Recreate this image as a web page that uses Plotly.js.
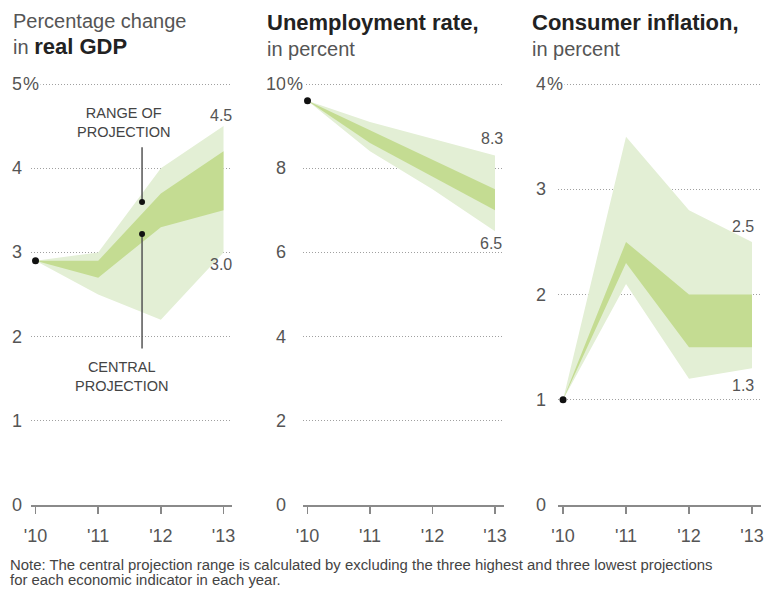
<!DOCTYPE html>
<html>
<head>
<meta charset="utf-8">
<script src="https://cdn.plot.ly/plotly-3.0.1.min.js"></script>
<style>html,body{margin:0;padding:0;background:#fff;}#chart{width:766px;height:589px;}</style>
</head>
<body>
<div id="chart"></div>
<script>
// ---------------- DATA ----------------
const years = [2010, 2011, 2012, 2013];
const yearLabels = ["'10", "'11", "'12", "'13"];

// Real GDP, percentage change
const gdpRangeHigh   = [2.9, 3.0, 4.0, 4.5];
const gdpRangeLow    = [2.9, 2.5, 2.2, 3.0];
const gdpCentralHigh = [2.9, 2.9, 3.7, 4.2];
const gdpCentralLow  = [2.9, 2.7, 3.3, 3.5];
const gdpTicks = [0, 1, 2, 3, 4, 5];

// Unemployment rate, percent
const unempRangeHigh   = [9.6, 9.1, 8.7, 8.3];
const unempRangeLow    = [9.6, 8.4, 7.5, 6.5];
const unempCentralHigh = [9.6, 8.9, 8.2, 7.5];
const unempCentralLow  = [9.6, 8.6, 7.8, 7.0];
const unempTicks = [0, 2, 4, 6, 8, 10];

// Consumer inflation, percent
const inflRangeHigh   = [1.0, 3.5, 2.8, 2.5];
const inflRangeLow    = [1.0, 2.1, 1.2, 1.3];
const inflCentralHigh = [1.0, 2.5, 2.0, 2.0];
const inflCentralLow  = [1.0, 2.3, 1.5, 1.5];
const inflTicks = [0, 1, 2, 3, 4];

const titles = [
  'Percentage change<br>in <span style="color:#222;font-size:22px"><b>real GDP</b></span>',
  '<span style="color:#222;font-size:22px"><b>Unemployment rate,</b></span><br>in percent',
  '<span style="color:#222;font-size:22px"><b>Consumer inflation,</b></span><br>in percent'
];
const noteLines = [
  'Note: The central projection range is calculated by excluding the three highest and three lowest projections',
  'for each economic indicator in each year.'
];

// ---------------- LAYOUT HELPERS ----------------
const W = 766, H = 589;
const FONT = 'Liberation Sans, Arial, sans-serif';
const LIGHT = '#e3efd5';
const DARK = '#c4dc92';
const PAD = 0.03;                       // head-room fraction above top tick
const yPixBottom = 505, yPixTopTick = 84;
const yPixTop = yPixTopTick - PAD * (yPixBottom - yPixTopTick);
const yDom = [(H - yPixBottom) / H, (H - yPixTop) / H];
const xRange = [2009.92, 2013.14];

const panels = [
  {sfx: '',  dom: [30.5, 232.3], ticks: gdpTicks, hi: gdpRangeHigh, lo: gdpRangeLow, chi: gdpCentralHigh, clo: gdpCentralLow,
   numRight: 24, titleX: 11, hiShift: [10, 11], loShift: [10, -12]},
  {sfx: '2', dom: [302.5, 503.75], ticks: unempTicks, hi: unempRangeHigh, lo: unempRangeLow, chi: unempCentralHigh, clo: unempCentralLow,
   numRight: 288, titleX: 265, hiShift: [10, 17], loShift: [9, -12]},
  {sfx: '3', dom: [558, 760.8], ticks: inflTicks, hi: inflRangeHigh, lo: inflRangeLow, chi: inflCentralHigh, clo: inflCentralLow,
   numRight: 548, titleX: 530, hiShift: [4, 15], loShift: [4, -17]}
];

const traces = [];
const annotations = [];
const shapes = [];
const layout = {
  width: W, height: H,
  margin: {l: 0, r: 0, t: 0, b: 0},
  paper_bgcolor: '#fff', plot_bgcolor: '#fff',
  showlegend: false, hovermode: false,
  font: {family: FONT, color: '#555'}
};

function band(xa, ya, upper, lower, color) {
  return {
    type: 'scatter', mode: 'lines', xaxis: xa, yaxis: ya,
    x: years.concat(years.slice().reverse()),
    y: upper.concat(lower.slice().reverse()),
    fill: 'toself', fillcolor: color,
    line: {width: 0, color: color}
  };
}

panels.forEach(function (p) {
  const xa = 'x' + p.sfx, ya = 'y' + p.sfx;
  const topTick = p.ticks[p.ticks.length - 1];
  traces.push(band(xa, ya, p.hi, p.lo, LIGHT));
  traces.push(band(xa, ya, p.chi, p.clo, DARK));
  traces.push({
    type: 'scatter', mode: 'markers', xaxis: xa, yaxis: ya,
    x: [years[0]], y: [p.hi[0]], cliponaxis: false,
    marker: {size: 7, color: '#111'}
  });

  layout['xaxis' + p.sfx] = {
    domain: [p.dom[0] / W, p.dom[1] / W], range: xRange, anchor: ya,
    tickvals: years, ticktext: yearLabels,
    ticks: 'outside', ticklen: 7, tickwidth: 1.5, tickcolor: '#888',
    showline: true, linecolor: '#8a8a8a', linewidth: 2,
    showgrid: false, zeroline: false, fixedrange: true,
    ticklabelstandoff: 6,
    tickfont: {family: FONT, size: 18, color: '#555'}
  };
  layout['yaxis' + p.sfx] = {
    domain: yDom, range: [0, topTick * (1 + PAD)], anchor: xa,
    tickvals: p.ticks, showticklabels: false,
    showgrid: true, gridcolor: '#a0a0a0', griddash: '1px,2px', gridwidth: 1,
    zeroline: false, showline: false, fixedrange: true
  };

  // y tick labels (numbers right-aligned, % hanging on the top one)
  p.ticks.forEach(function (t, i) {
    annotations.push({
      xref: 'paper', yref: ya, x: p.numRight / W, y: t,
      xanchor: 'right', yanchor: 'middle', showarrow: false,
      text: String(t), font: {family: FONT, size: 18, color: '#555'}
    });
    if (i === p.ticks.length - 1) {
      annotations.push({
        xref: 'paper', yref: ya, x: p.numRight / W, y: t, xshift: -3,
        xanchor: 'left', yanchor: 'middle', showarrow: false,
        text: '%', bgcolor: '#fff', borderpad: 1,
        font: {family: FONT, size: 18, color: '#555'}
      });
    }
  });

  // end value labels
  const last = years.length - 1;
  annotations.push({
    xref: xa, yref: ya, x: years[last], y: p.hi[last],
    xanchor: 'right', yanchor: 'middle', xshift: p.hiShift[0], yshift: p.hiShift[1],
    showarrow: false, text: p.hi[last].toFixed(1),
    font: {family: FONT, size: 16, color: '#555'}
  });
  annotations.push({
    xref: xa, yref: ya, x: years[last], y: p.lo[last],
    xanchor: 'right', yanchor: 'middle', xshift: p.loShift[0], yshift: p.loShift[1],
    showarrow: false, text: p.lo[last].toFixed(1),
    font: {family: FONT, size: 16, color: '#555'}
  });
});

// panel titles
panels.forEach(function (p, i) {
  annotations.push({
    xref: 'paper', yref: 'paper', x: p.titleX / W, y: 1 - 8 / H,
    xanchor: 'left', yanchor: 'top', align: 'left', showarrow: false,
    text: titles[i], font: {family: FONT, size: 20, color: '#555'}
  });
});

// callouts in GDP panel
const calloutX = 2011.7;
annotations.push({
  xref: 'x', yref: 'y', x: 2011.4, y: 4.54, showarrow: false, align: 'center',
  text: 'RANGE OF<br>PROJECTION', font: {family: FONT, size: 14.5, color: '#444'}
});
annotations.push({
  xref: 'x', yref: 'y', x: 2011.37, y: 1.53, showarrow: false, align: 'center',
  text: 'CENTRAL<br>PROJECTION', font: {family: FONT, size: 14.5, color: '#444'}
});
shapes.push({type: 'line', xref: 'x', yref: 'y', x0: calloutX, x1: calloutX, y0: 4.25, y1: 3.6,
             line: {color: '#555', width: 1.5}});
shapes.push({type: 'line', xref: 'x', yref: 'y', x0: calloutX, x1: calloutX, y0: 3.22, y1: 1.86,
             line: {color: '#555', width: 1.5}});
[3.6, 3.22].forEach(function (yy) {
  shapes.push({type: 'circle', xref: 'x', yref: 'y', xsizemode: 'pixel', ysizemode: 'pixel',
               xanchor: calloutX, yanchor: yy, x0: -3, x1: 3, y0: -3, y1: 3,
               fillcolor: '#111', line: {width: 0}});
});

// note
noteLines.forEach(function (t, i) {
  annotations.push({
    xref: 'paper', yref: 'paper', x: 8 / W, y: 1 - (565 + 15 * i) / H,
    xanchor: 'left', yanchor: 'middle', showarrow: false, align: 'left',
    text: t, font: {family: FONT, size: 14.9, color: '#444'}
  });
});

layout.annotations = annotations;
layout.shapes = shapes;

Plotly.newPlot('chart', traces, layout, {staticPlot: true, displayModeBar: false});
</script>
</body>
</html>
